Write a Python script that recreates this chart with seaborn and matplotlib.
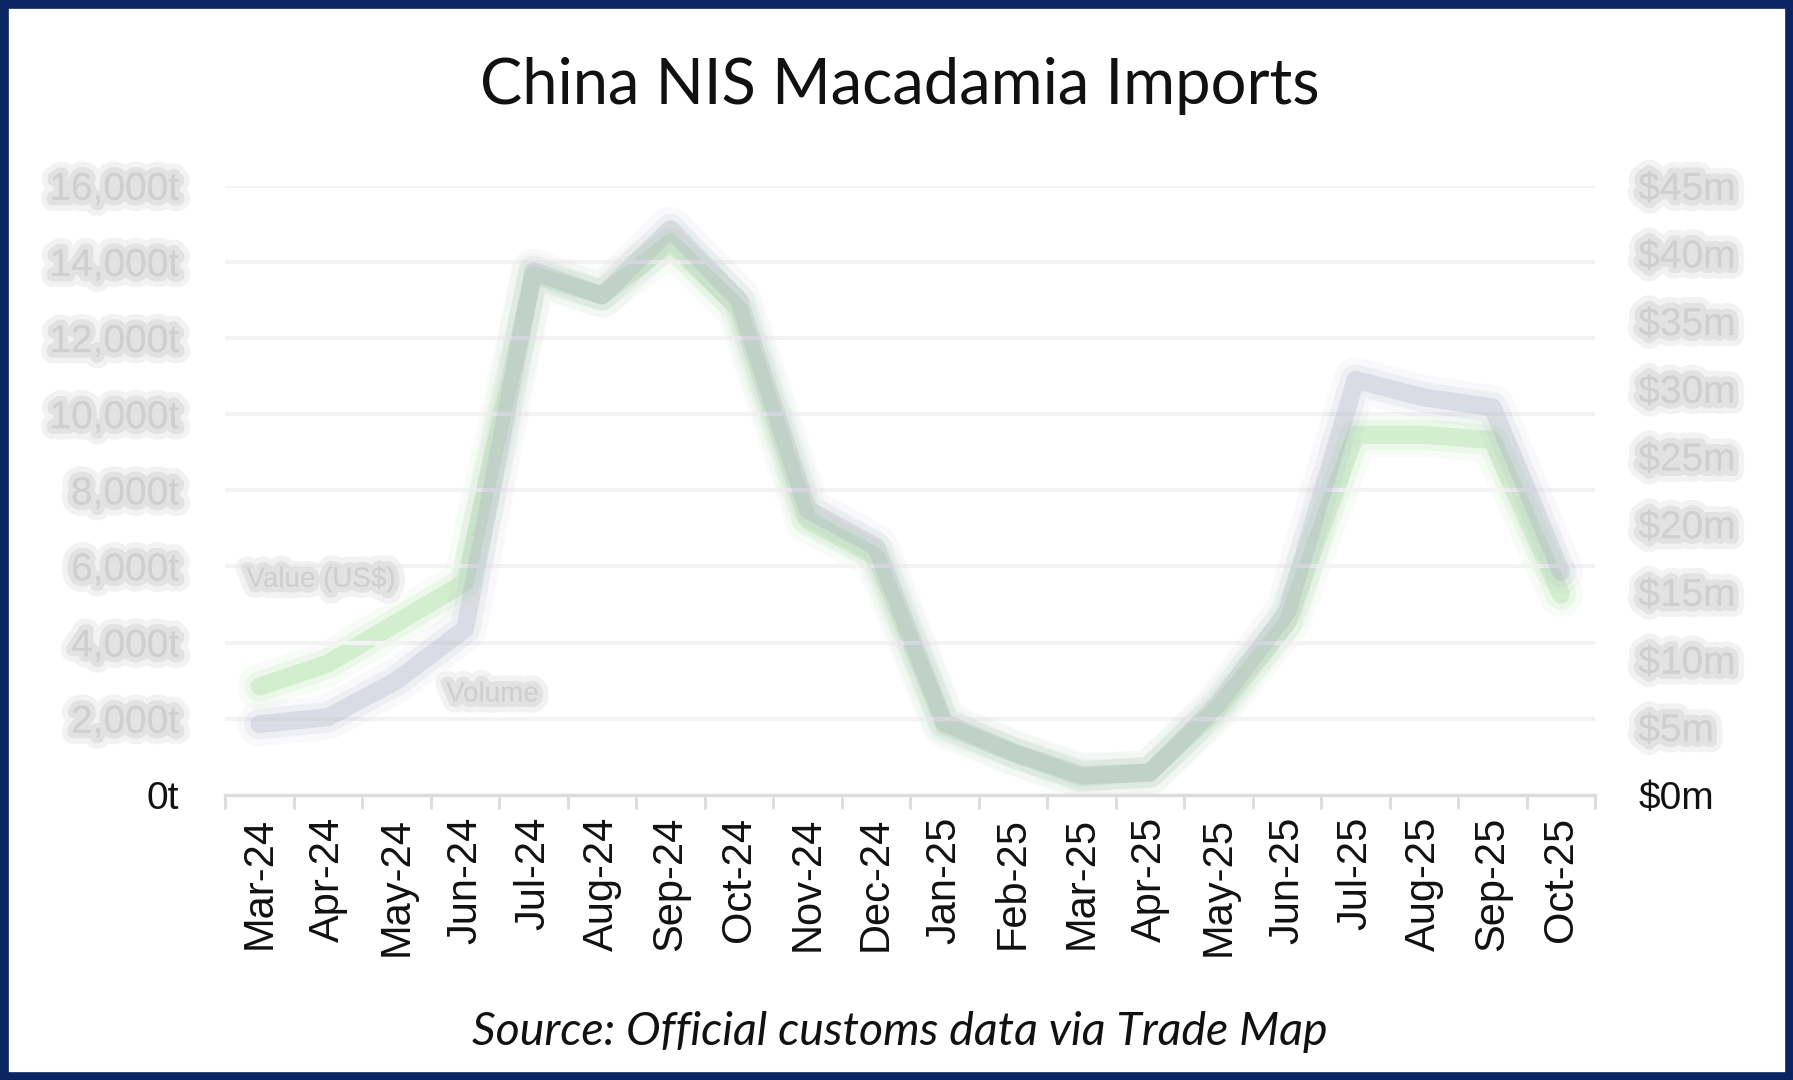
import numpy as np
import pandas as pd
import seaborn as sns
import matplotlib.pyplot as plt
import matplotlib.patheffects as pe
from matplotlib.patches import Rectangle
from matplotlib.ticker import FixedLocator

# Data
months = ['Mar-24', 'Apr-24', 'May-24', 'Jun-24', 'Jul-24', 'Aug-24', 'Sep-24',
          'Oct-24', 'Nov-24', 'Dec-24', 'Jan-25', 'Feb-25', 'Mar-25', 'Apr-25',
          'May-25', 'Jun-25', 'Jul-25', 'Aug-25', 'Sep-25', 'Oct-25']
volume_t = [1860, 2040, 3000, 4360, 13760, 13120, 14860, 13000, 7500, 6520,
            1900, 1120, 520, 580, 2400, 4800, 10900, 10440, 10180, 5860]
value_usdm = [8.0, 9.7, 12.7, 15.7, 38.4, 36.9, 40.8, 35.9, 20.3, 17.6,
              5.1, 3.1, 1.3, 1.7, 6.4, 12.7, 26.6, 26.6, 26.2, 14.8]
left_ticks = [0, 2000, 4000, 6000, 8000, 10000, 12000, 14000, 16000]
left_labels = ['0t', '2,000t', '4,000t', '6,000t', '8,000t', '10,000t',
               '12,000t', '14,000t', '16,000t']
right_ticks = [0, 5, 10, 15, 20, 25, 30, 35, 40, 45]
right_labels = ['$0m', '$5m', '$10m', '$15m', '$20m', '$25m', '$30m',
                '$35m', '$40m', '$45m']

df = pd.DataFrame({'pos': np.arange(len(months)), 'month': months,
                   'volume': volume_t, 'value': value_usdm})

sns.set_style('white')
plt.rcParams['font.family'] = ['Liberation Sans', 'DejaVu Sans']

fig = plt.figure(figsize=(17.93, 10.8), dpi=100)
ax = fig.add_axes([0.1256, 0.264, 0.7641, 0.564])
ax2 = ax.twinx()

# faint gridlines on the left axis ticks
for t in left_ticks[1:]:
    ax.axhline(t, color='#f3f3f3', lw=3, zorder=0)

# soft (blurred looking) lines: several passes of decreasing width
layers = [(32, 0.06), (22, 0.12), (13, 0.26)]
for lw, a in layers:
    sns.lineplot(data=df, x='pos', y='value', ax=ax2, color='#8fd884',
                 lw=lw, alpha=a, sort=False, solid_joinstyle='round',
                 solid_capstyle='round', legend=False)
for lw, a in layers:
    sns.lineplot(data=df, x='pos', y='volume', ax=ax, color='#a4a9be',
                 lw=lw, alpha=a, sort=False, solid_joinstyle='round',
                 solid_capstyle='round', legend=False)
ax.set_zorder(ax2.get_zorder() + 1)
ax.patch.set_visible(False)

ax.set_xlim(-0.5, len(months) - 0.5)
ax.set_ylim(0, 16000)
ax2.set_ylim(0, 45)

blur = [pe.Stroke(linewidth=16, foreground='#e4e4e4', alpha=0.45),
        pe.Stroke(linewidth=8, foreground='#d8d8d8', alpha=0.6), pe.Normal()]

ax.set_yticks(left_ticks)
ax.set_yticklabels(left_labels)
ax2.set_yticks(right_ticks)
ax2.set_yticklabels(right_labels)
ax.tick_params(axis='y', length=0, pad=33, labelsize=28)
ax2.tick_params(axis='y', length=0, pad=31, labelsize=28)
for lab in ax.get_yticklabels()[1:] + ax2.get_yticklabels()[1:]:
    lab.set_color('#cfcfcf')
    lab.set_path_effects(blur)
for lab in [ax.get_yticklabels()[0], ax2.get_yticklabels()[0]]:
    lab.set_color('#111111')

ax.set_xticks(np.arange(len(months)))
ax.set_xticklabels(months, rotation=90)
ax.xaxis.set_minor_locator(FixedLocator(np.arange(-0.5, len(months), 1.0)))
ax.tick_params(axis='x', which='major', length=0, pad=16, labelsize=30,
               labelcolor='#111111')
ax.tick_params(axis='x', which='minor', length=10, width=2, color='#dcdcdc',
               bottom=True)
ax.set_xlabel('')
ax.set_ylabel('')
ax2.set_ylabel('')

for a in (ax, ax2):
    for s in ['top', 'left', 'right']:
        a.spines[s].set_visible(False)
ax.spines['bottom'].set_color('#dcdcdc')
ax.spines['bottom'].set_linewidth(2.5)
ax2.spines['bottom'].set_visible(False)

# series labels (blurred in the source)
ax.text(0.9, 5650, 'Value (US$)', ha='center', va='center', fontsize=20,
        color='#cfcfcf', path_effects=blur)
ax.text(3.4, 2640, 'Volume', ha='center', va='center', fontsize=20,
        color='#cfcfcf', path_effects=blur)

fig.text(0.502, 0.92, 'China NIS Macadamia Imports', ha='center', va='center',
         fontsize=45.5, color='#111111', family=['Lato', 'Liberation Sans'])
fig.text(0.502, 0.0445, 'Source: Official customs data via Trade Map',
         ha='center', va='center', fontsize=33.5, style='italic', color='#111111',
         family=['Lato', 'Liberation Sans'])

fig.patches.append(Rectangle((0, 0), 1, 1, transform=fig.transFigure,
                             fill=False, edgecolor='#0a2561', linewidth=12))

fig.savefig('out.png', dpi=100)
